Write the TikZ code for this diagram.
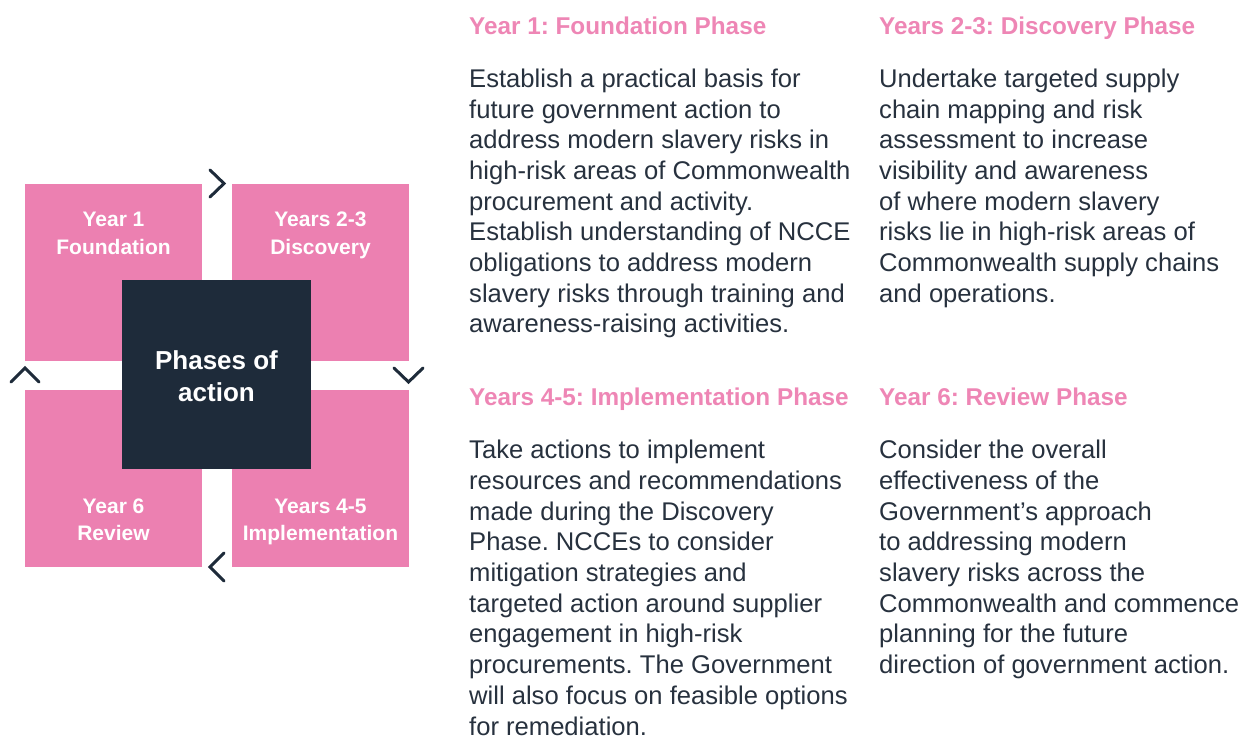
\documentclass[tikz,border=0pt]{standalone}
\usepackage{fontspec}
\setmainfont{Liberation Sans}
\frenchspacing
\definecolor{pinkbox}{HTML}{EC80B1}
\definecolor{pinkhead}{HTML}{EE86B5}
\definecolor{darkbox}{HTML}{1E2B3A}
\definecolor{bodytext}{HTML}{27313E}
\begin{document}
\begin{tikzpicture}[x=1pt,y=-1pt,
  phasebox/.style={fill=pinkbox,draw=none},
  boxlabel/.style={text=white,font=\bfseries\fontsize{21}{27.5}\selectfont,anchor=base,inner sep=0pt},
  centerlabel/.style={text=white,font=\bfseries\fontsize{26}{32}\selectfont,anchor=base,inner sep=0pt},
  headtext/.style={text=pinkhead,font=\bfseries\fontsize{24.3}{28}\selectfont,anchor=base west,inner sep=0pt},
  bodyline/.style={text=bodytext,font=\fontsize{25.6}{30.7}\selectfont,anchor=base west,inner sep=0pt,text depth=0pt},
  chev/.style={draw=darkbox,line width=3pt,line cap=round,line join=miter}]
\useasboundingbox (0,0) rectangle (1240,737);
% boxes
\fill[phasebox] (25,184) rectangle (202,361);
\fill[phasebox] (232,184) rectangle (409,361);
\fill[phasebox] (25,390) rectangle (202,567);
\fill[phasebox] (232,390) rectangle (409,567);
\fill[darkbox] (122,280) rectangle (311,469);
% box labels
\node[boxlabel] (y1a) at (113.5,226.7) {Year 1};
\node[boxlabel] (y1b) at (113.5,254.2) {Foundation};
\node[boxlabel] (y2a) at (320.5,226.7) {Years 2-3};
\node[boxlabel] (y2b) at (320.5,254.2) {Discovery};
\node[boxlabel] (y6a) at (113.5,513) {Year 6};
\node[boxlabel] (y6b) at (113.5,540.5) {Review};
\node[boxlabel] (y4a) at (320.5,513) {Years 4-5};
\node[boxlabel] (y4b) at (320.5,540.5) {Implementation};
\node[centerlabel] (pa) at (216.5,369.3) {Phases of};
\node[centerlabel] (pb) at (216.5,401.7) {action};
% chevrons
\draw[chev] (210,170) -- (224,183.5) -- (210,197);
\draw[chev] (394,368) -- (408.5,382) -- (423,368);
\draw[chev] (224,553) -- (210,567) -- (224,581);
\draw[chev] (11,382) -- (25,368) -- (39,382);
% headings
\node[headtext] (h1) at (469,34.3) {Year 1: Foundation Phase};
\node[headtext] (h2) at (879,34.3) {Years 2-3: Discovery Phase};
\node[headtext] (h3) at (469,405.5) {Years 4-5: Implementation Phase};
\node[headtext] (h4) at (879,405.5) {Year 6: Review Phase};
% body text
\foreach \t [count=\i from 0] in {Establish a practical basis for,future government action to,address modern slavery risks in,high-risk areas of Commonwealth,procurement and activity.,Establish understanding of NCCE,obligations to address modern,slavery risks through training and,awareness-raising activities.}
  \node[bodyline] (ba\i) at (469,87.3+30.7*\i) {\t};
\foreach \t [count=\i from 0] in {Undertake targeted supply,chain mapping and risk,assessment to increase,visibility and awareness,of where modern slavery,risks lie in high-risk areas of,Commonwealth supply chains,and operations.}
  \node[bodyline] (bb\i) at (879,87.3+30.7*\i) {\t};
\foreach \t [count=\i from 0] in {Take actions to implement,resources and recommendations,made during the Discovery,Phase. NCCEs to consider,mitigation strategies and,targeted action around supplier,engagement in high-risk,procurements. The Government,will also focus on feasible options,for remediation.}
  \node[bodyline] (bc\i) at (469,458.7+30.7*\i) {\t};
\foreach \t [count=\i from 0] in {Consider the overall,effectiveness of the,Government’s approach,to addressing modern,slavery risks across the,Commonwealth and commence,planning for the future,direction of government action.}
  \node[bodyline] (bd\i) at (879,458.7+30.7*\i) {\t};
\end{tikzpicture}
\end{document}
